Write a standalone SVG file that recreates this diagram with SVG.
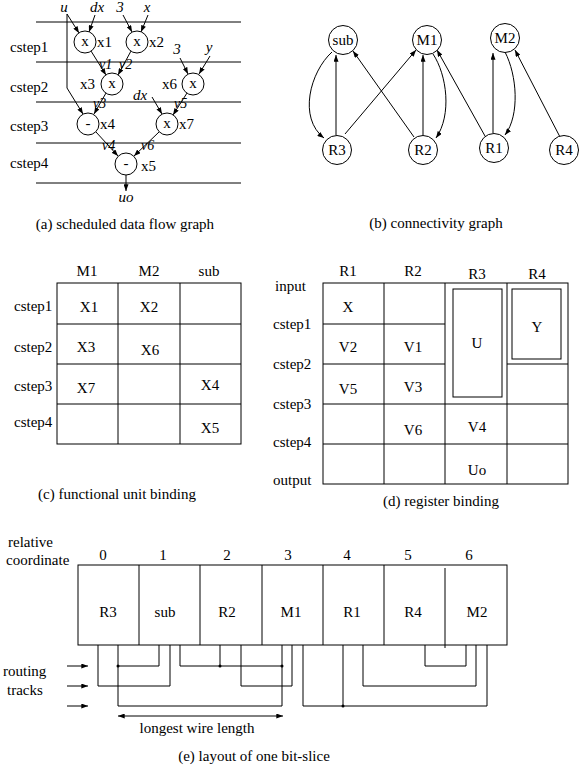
<svg xmlns="http://www.w3.org/2000/svg" width="579" height="768" viewBox="0 0 579 768">
  <style>
    text { font-family: "Liberation Serif", "Times New Roman", serif; font-size: 15px; fill: #000; }
    .it { font-style: italic; }
    .mid { text-anchor: middle; }
    .sm { font-size: 14px; }
    .ln { stroke: #000; stroke-width: 1; fill: none; }
    .node { stroke: #000; stroke-width: 1; fill: #fff; }
    .arr { stroke: #000; stroke-width: 1; fill: none; marker-end: url(#ah); }
    .dot { fill: #000; }
  </style>
  <defs>
    <marker id="ah" viewBox="0 0 8 6" refX="8" refY="3" markerWidth="7" markerHeight="5" markerUnits="userSpaceOnUse" orient="auto">
      <path d="M0,0 L8,3 L0,6 Z" fill="#000"/>
    </marker>
    <marker id="ah2" viewBox="0 0 8 6" refX="8" refY="3" markerWidth="7" markerHeight="5" markerUnits="userSpaceOnUse" orient="auto-start-reverse">
      <path d="M0,0 L8,3 L0,6 Z" fill="#000"/>
    </marker>
  </defs>

  <!-- (a) scheduled data flow graph -->
  <g id="dfg-steps">
    <path class="ln" d="M36,22 H241 M36,62 H241 M36,102 H241 M36,143 H241 M36,183 H241"/>
    <text x="10" y="52">cstep1</text>
    <text x="10" y="92">cstep2</text>
    <text x="10" y="131">cstep3</text>
    <text x="10" y="168">cstep4</text>
  </g>
  <g id="dfg-inputs">
    <text class="it mid" x="64" y="12">u</text>
    <text class="it mid" x="97" y="12">dx</text>
    <text class="it mid" x="120" y="12">3</text>
    <text class="it mid" x="147" y="12">x</text>
    <text class="it mid" x="177" y="54">3</text>
    <text class="it mid" x="209" y="52">y</text>
    <text class="it" x="133" y="100">dx</text>
    <text class="it mid" x="126" y="202">uo</text>
  </g>
  <g id="dfg-edges">
    <path class="arr" d="M67,14 L79,33"/>
    <path class="arr" d="M95,15 L89,32"/>
    <path class="arr" d="M123,15 L132,32"/>
    <path class="arr" d="M148,15 L141,32"/>
    <path class="arr" d="M91,51 L106,75"/>
    <path class="arr" d="M131,51 L118,75"/>
    <path class="arr" d="M180,58 L188,74"/>
    <path class="arr" d="M210,56 L199,74"/>
    <path class="arr" d="M67,14 V88 L83,114"/>
    <path class="arr" d="M106,93 L94,114"/>
    <path class="arr" d="M152,97 L162,114"/>
    <path class="arr" d="M187,93 L173,115"/>
    <path class="arr" d="M96,132 L118,156"/>
    <path class="arr" d="M159,132 L134,156"/>
    <path class="arr" d="M126,175 V191"/>
    <text class="it sm" x="99" y="69">v1</text>
    <text class="it sm" x="119" y="69">v2</text>
    <text class="it sm" x="93" y="108">v3</text>
    <text class="it sm" x="174" y="108">v5</text>
    <text class="it sm" x="102" y="150">v4</text>
    <text class="it sm" x="141" y="150">v6</text>
  </g>
  <g id="x1"><circle class="node" cx="85" cy="42" r="11"/><text class="mid" x="85" y="46">x</text><text x="97" y="47">x1</text></g>
  <g id="x2"><circle class="node" cx="137" cy="42" r="11"/><text class="mid" x="137" y="46">x</text><text x="149" y="47">x2</text></g>
  <g id="x3"><circle class="node" cx="112" cy="84" r="11"/><text class="mid" x="112" y="88">x</text><text x="80" y="89">x3</text></g>
  <g id="x6"><circle class="node" cx="193" cy="84" r="11"/><text class="mid" x="193" y="88">x</text><text x="162" y="89">x6</text></g>
  <g id="x4"><circle class="node" cx="88" cy="124" r="11"/><text class="mid" x="88" y="128">-</text><text x="100" y="129">x4</text></g>
  <g id="x7"><circle class="node" cx="167" cy="124" r="11"/><text class="mid" x="167" y="128">x</text><text x="179" y="129">x7</text></g>
  <g id="x5"><circle class="node" cx="126" cy="164" r="11"/><text class="mid" x="126" y="168">-</text><text x="141" y="171">x5</text></g>
  <text class="mid" x="125" y="229">(a) scheduled data flow graph</text>

  <!-- (b) connectivity graph -->
  <g id="cg-edges">
    <path class="arr" d="M332,52 C310,72 298,118 324,138"/>
    <path class="arr" d="M336,135 V55"/>
    <path class="arr" d="M345,134 L416,50"/>
    <path class="arr" d="M414,137 L353,51"/>
    <path class="arr" d="M423,135 V55"/>
    <path class="arr" d="M433,54 C447,75 452,115 436,138"/>
    <path class="arr" d="M485,136 L437,50"/>
    <path class="arr" d="M493,133 V53"/>
    <path class="arr" d="M505,52 C517,75 520,115 505,135"/>
    <path class="arr" d="M560,137 L515,50"/>
  </g>
  <g id="sub"><circle class="node" cx="343" cy="40" r="14.5"/><text class="mid" x="343" y="45">sub</text></g>
  <g id="M1"><circle class="node" cx="427" cy="40" r="14.5"/><text class="mid" x="427" y="45">M1</text></g>
  <g id="M2"><circle class="node" cx="505" cy="38" r="14.5"/><text class="mid" x="505" y="43">M2</text></g>
  <g id="R3"><circle class="node" cx="337" cy="150" r="14.5"/><text class="mid" x="337" y="155">R3</text></g>
  <g id="R2"><circle class="node" cx="423" cy="150" r="14.5"/><text class="mid" x="423" y="155">R2</text></g>
  <g id="R1"><circle class="node" cx="494" cy="148" r="14.5"/><text class="mid" x="494" y="153">R1</text></g>
  <g id="R4"><circle class="node" cx="564" cy="150" r="14.5"/><text class="mid" x="564" y="155">R4</text></g>
  <text class="mid" x="436" y="228">(b) connectivity graph</text>

  <!-- (c) functional unit binding -->
  <g id="fu-binding">
    <rect class="ln" x="57" y="283" width="184" height="161"/>
    <path class="ln" d="M118,283 V444 M180,283 V444 M57,324 H241 M57,364 H241 M57,404 H241"/>
    <text class="mid" x="87" y="276">M1</text>
    <text class="mid" x="149" y="276">M2</text>
    <text class="mid" x="209" y="276">sub</text>
    <text x="14" y="311">cstep1</text>
    <text x="14" y="352">cstep2</text>
    <text x="14" y="391">cstep3</text>
    <text x="14" y="427">cstep4</text>
    <text class="mid" x="89" y="312">X1</text>
    <text class="mid" x="149" y="312">X2</text>
    <text class="mid" x="86" y="352">X3</text>
    <text class="mid" x="150" y="355">X6</text>
    <text class="mid" x="86" y="393">X7</text>
    <text class="mid" x="210" y="390">X4</text>
    <text class="mid" x="210" y="433">X5</text>
  </g>
  <text class="mid" x="117" y="499">(c) functional unit binding</text>

  <!-- (d) register binding -->
  <g id="reg-binding">
    <rect class="ln" x="323" y="283" width="245" height="201"/>
    <path class="ln" d="M384,283 V484 M445,283 V484 M507,283 V484 M323,324 H445 M323,364 H445 M507,364 H568 M323,404 H568 M323,444 H568"/>
    <rect class="ln" x="453" y="289" width="49" height="108"/>
    <rect class="ln" x="512" y="289" width="49" height="70"/>
    <text class="mid" x="348" y="276">R1</text>
    <text class="mid" x="413" y="276">R2</text>
    <text class="mid" x="477" y="279">R3</text>
    <text class="mid" x="537" y="279">R4</text>
    <text x="275" y="291">input</text>
    <text x="273" y="329">cstep1</text>
    <text x="273" y="369">cstep2</text>
    <text x="273" y="409">cstep3</text>
    <text x="273" y="447">cstep4</text>
    <text x="273" y="485">output</text>
    <text class="mid" x="348" y="312">X</text>
    <text class="mid" x="348" y="352">V2</text>
    <text class="mid" x="413" y="352">V1</text>
    <text class="mid" x="348" y="394">V5</text>
    <text class="mid" x="413" y="392">V3</text>
    <text class="mid" x="413" y="435">V6</text>
    <text class="mid" x="477" y="432">V4</text>
    <text class="mid" x="477" y="348">U</text>
    <text class="mid" x="537" y="332">Y</text>
    <text class="mid" x="477" y="475">Uo</text>
  </g>
  <text class="mid" x="441" y="506">(d) register binding</text>

  <!-- (e) layout of one bit-slice -->
  <g id="slice">
    <text x="8" y="547">relative</text>
    <text x="6" y="565">coordinate</text>
    <text class="mid" x="103" y="560">0</text>
    <text class="mid" x="163" y="560">1</text>
    <text class="mid" x="227" y="560">2</text>
    <text class="mid" x="288" y="560">3</text>
    <text class="mid" x="347" y="560">4</text>
    <text class="mid" x="408" y="560">5</text>
    <text class="mid" x="469" y="560">6</text>
    <rect class="ln" x="78" y="565" width="429" height="80"/>
    <path class="ln" d="M139,565 V645 M200,565 V645 M262,565 V645 M323,565 V645 M384,565 V645 M445,568 V648"/>
    <text class="mid" x="108" y="617">R3</text>
    <text class="mid" x="165" y="617">sub</text>
    <text class="mid" x="227" y="617">R2</text>
    <text class="mid" x="291" y="617">M1</text>
    <text class="mid" x="352" y="617">R1</text>
    <text class="mid" x="413" y="617">R4</text>
    <text class="mid" x="477" y="617">M2</text>
  </g>
  <g id="wires">
    <path class="ln" d="M98,645 V686 H170 V645"/>
    <path class="ln" d="M118,645 V706 H282 V645 M118,666 H159 V645"/>
    <path class="ln" d="M180,645 V666 H282 M220,645 V666"/>
    <path class="ln" d="M241,645 V686 H292 V645"/>
    <path class="ln" d="M303,645 V706 H487 V645 M343,645 V706"/>
    <path class="ln" d="M363,645 V686 H476 V645"/>
    <path class="ln" d="M425,645 V666 H466 V645"/>
    <circle class="dot" cx="118" cy="666" r="1.5"/>
    <circle class="dot" cx="220" cy="666" r="1.5"/>
    <circle class="dot" cx="282" cy="666" r="1.5"/>
    <circle class="dot" cx="343" cy="706" r="1.5"/>
    <path class="arr" d="M67,666 H88"/>
    <path class="arr" d="M67,686 H88"/>
    <path class="arr" d="M67,706 H88"/>
    <text x="3" y="676">routing</text>
    <text x="7" y="695">tracks</text>
    <path class="ln" d="M118,716 H283" marker-start="url(#ah2)" marker-end="url(#ah2)"/>
    <text class="mid" x="197" y="733">longest wire length</text>
  </g>
  <text class="mid" x="254" y="761">(e)  layout of one bit-slice</text>
</svg>
